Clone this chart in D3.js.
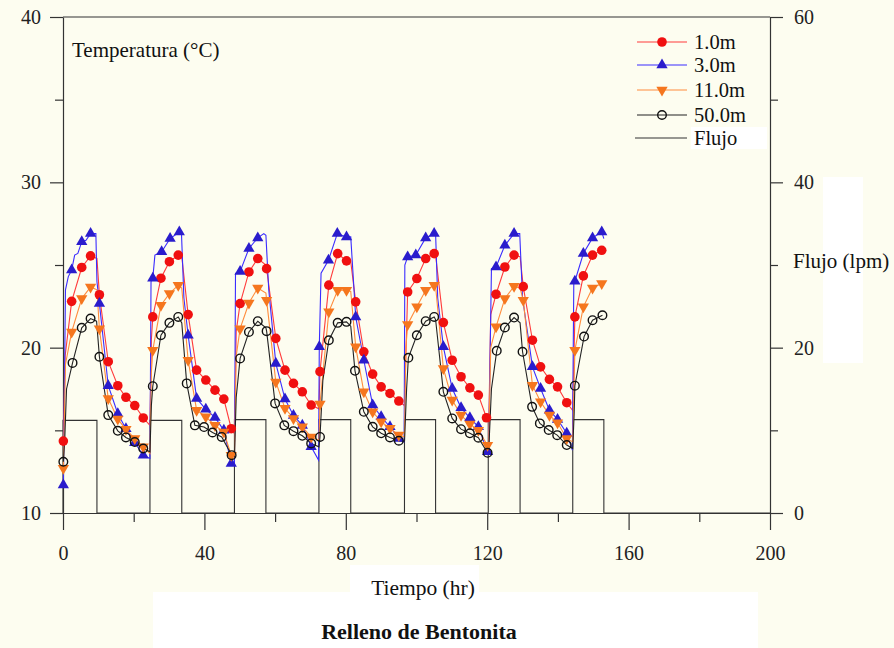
<!DOCTYPE html>
<html><head><meta charset="utf-8">
<script src="https://cdn.jsdelivr.net/npm/d3@7"></script>
<style>
html,body{margin:0;padding:0;background:#fdfdf0;}
svg{display:block;}
text{font-family:"Liberation Serif","DejaVu Serif",serif;fill:#111;}
</style></head>
<body>
<svg id="chart" width="894" height="648"></svg>
<script>
// ---- data: [time (hr), temperature (°C), marker?] ----
const series1m = [
 [0.1,14.35,1],[0.6,19.5,0],[2.45,22.8,1],[5.3,24.85,1],[7.8,25.55,1],[9.6,25.4,0],[10.3,23.2,1],[12.8,19.15,1],[15.5,17.7,1],[17.8,17.0,1],[20.3,16.5,1],[22.7,15.75,1],
 [24.6,15.3,0],[25.0,20.5,0],[25.4,21.86,1],[27.7,24.2,1],[30.1,25.2,1],[32.6,25.6,1],[33.6,25.5,0],[35.4,22.0,1],[37.8,18.64,1],[40.4,18.04,1],[43.0,17.43,1],[45.5,16.89,1],[47.6,15.1,1],
 [48.5,14.8,0],[49.0,21.0,0],[50.1,22.67,1],[52.6,24.58,1],[55.1,25.39,1],[57.4,25.0,0],[57.6,24.78,1],[60.2,20.56,1],[62.8,18.64,1],[65.2,17.84,1],[67.7,17.33,1],[70.2,16.53,1],
 [72.4,16.3,0],[72.7,18.55,1],[75.2,23.78,1],[77.7,25.69,1],[80.2,25.25,1],[81.4,25.2,0],[82.8,22.77,1],[85.1,19.75,1],[87.6,18.4,1],[90.0,17.63,1],[92.5,17.23,1],[95.0,16.77,1],
 [96.6,16.5,0],[97.5,23.37,1],[100.1,24.18,1],[102.6,25.39,1],[105.0,25.69,1],[105.4,25.6,0],[107.6,21.52,1],[110.1,19.24,1],[112.6,18.24,1],[115.1,17.57,1],[117.5,17.13,1],[119.8,15.76,1],
 [120.5,16.0,0],[121.0,22.0,0],[122.5,23.23,1],[125.0,24.88,1],[127.6,25.6,1],[129.3,25.5,0],[130.2,23.69,1],[132.8,20.45,1],[135.1,18.84,1],[137.6,18.08,1],[139.9,17.63,1],[142.5,16.67,1],
 [144.2,16.2,0],[144.8,21.86,1],[147.2,24.34,1],[149.8,25.6,1],[152.4,25.89,1],[153.0,26.0,0]
];
const series3m = [
 [0.1,11.7,1],[0.7,23.5,0],[1.5,24.3,0],[2.45,24.7,1],[3.3,25.6,0],[4.2,25.7,0],[5.3,26.4,1],[6.5,26.5,0],[7.8,26.9,1],[9.3,26.9,0],[9.6,24.0,0],[10.3,22.67,1],[12.8,17.7,1],[15.5,16.0,1],[17.8,15.1,1],[20.3,14.25,1],[22.7,13.5,1],
 [24.6,13.3,0],[24.9,24.0,0],[25.4,24.2,1],[26.0,25.6,0],[27.9,25.8,1],[30.3,26.6,1],[32.9,27.0,1],[33.5,27.0,0],[34.2,23.0,0],[35.4,20.75,1],[37.8,16.93,1],[40.4,16.27,1],[43.0,15.78,1],[45.5,15.0,1],[47.6,13.0,1],
 [48.5,12.9,0],[48.8,24.5,0],[50.1,24.6,1],[52.6,26.0,1],[55.1,26.64,1],[56.8,26.9,0],[57.4,26.8,0],[58.2,23.5,0],[60.2,19.05,1],[62.8,16.89,1],[65.2,15.9,1],[67.7,15.3,1],[70.2,14.0,1],[72.3,13.2,0],
 [72.5,20.05,1],[73.0,24.5,0],[75.1,25.29,1],[77.6,26.9,1],[80.2,26.7,1],[81.4,26.7,0],[82.8,21.86,1],[85.1,19.24,1],[87.6,16.53,1],[90.0,15.82,1],[92.5,15.21,1],[95.0,14.51,1],[96.5,14.3,0],
 [96.7,25.0,0],[97.5,25.49,1],[99.8,25.6,1],[102.6,26.64,1],[105.0,26.9,1],[105.4,26.9,0],[106.0,23.0,0],[107.6,20.05,1],[110.1,17.53,1],[112.6,16.36,1],[115.1,15.76,1],[117.5,15.21,1],[120.1,13.7,1],
 [120.4,13.6,0],[121.2,24.78,0],[122.5,24.88,1],[125.0,26.19,1],[127.6,26.9,1],[129.2,26.9,0],[130.0,23.0,0],[132.8,18.84,1],[135.1,17.53,1],[137.6,16.22,1],[139.9,15.66,1],[142.5,14.82,1],[144.1,13.8,0],
 [144.5,24.0,0],[144.8,24.02,1],[147.2,25.69,1],[149.8,26.64,1],[152.4,27.0,1],[153.0,26.6,0]
];
const series11m = [
 [0.1,12.7,1],[0.7,19.0,0],[2.45,20.95,1],[5.3,22.97,1],[7.8,23.67,1],[9.6,23.5,0],[10.3,21.15,1],[12.8,16.93,1],[15.5,15.68,1],[17.8,15.06,1],[20.3,14.5,1],[22.7,14.0,1],
 [24.6,13.6,0],[25.0,18.5,0],[25.4,19.85,1],[27.7,22.57,1],[30.1,23.27,1],[32.6,23.78,1],[33.6,23.6,0],[35.4,19.24,1],[37.8,16.22,1],[40.4,15.82,1],[43.0,15.3,1],[45.5,14.9,1],[47.6,13.5,1],
 [48.5,13.4,0],[49.0,19.5,0],[50.1,21.15,1],[52.6,22.7,1],[55.1,23.61,1],[57.4,23.3,0],[57.6,22.87,1],[60.2,17.93,1],[62.8,16.33,1],[65.2,15.72,1],[67.7,15.21,1],[70.2,14.6,1],
 [72.4,14.4,0],[72.7,16.6,1],[75.2,22.17,1],[77.7,23.47,1],[80.2,23.47,1],[81.4,23.4,0],[82.8,20.05,1],[85.1,17.33,1],[87.6,16.12,1],[90.0,15.52,1],[92.5,15.12,1],[95.0,14.71,1],
 [96.6,14.6,0],[97.0,20.0,0],[97.5,21.4,1],[100.1,22.47,1],[102.6,23.47,1],[105.0,23.78,1],[105.4,23.7,0],[107.6,18.74,1],[110.1,16.83,1],[112.6,15.92,1],[115.1,15.38,1],[117.5,15.0,1],[120.1,14.1,1],
 [120.4,14.0,0],[121.0,20.0,0],[122.5,21.26,1],[125.0,22.97,1],[127.6,23.72,1],[129.3,23.6,0],[130.2,22.87,1],[132.8,17.73,1],[135.1,16.73,1],[137.6,15.92,1],[139.9,15.46,1],[142.5,14.51,1],
 [144.2,14.3,0],[144.8,19.85,1],[147.2,22.47,1],[149.8,23.61,1],[152.4,23.88,1],[153.0,23.9,0]
];
const series50m = [
 [0.1,13.1,1],[0.5,14.5,0],[1.0,17.5,0],[2.7,19.08,1],[5.3,21.2,1],[7.8,21.76,1],[9.5,21.6,0],[10.3,19.45,1],[12.8,15.92,1],[15.5,14.97,1],[17.8,14.57,1],[20.3,14.29,1],[22.7,13.9,1],
 [24.6,13.7,0],[25.0,16.5,0],[25.4,17.67,1],[27.7,20.75,1],[30.1,21.5,1],[32.6,21.86,1],[33.6,21.5,0],[35.0,17.84,1],[37.3,15.3,1],[39.9,15.2,1],[42.3,14.87,1],[44.9,14.6,1],[47.7,13.5,1],
 [48.5,13.4,0],[49.0,17.0,0],[50.1,19.35,1],[52.6,20.95,1],[55.1,21.6,1],[57.4,21.2,0],[57.6,21.0,1],[60.0,16.63,1],[62.6,15.3,1],[65.2,14.95,1],[67.7,14.67,1],[70.2,14.21,1],
 [72.4,14.0,0],[72.7,14.6,1],[73.5,18.0,0],[75.2,20.45,1],[77.7,21.5,1],[80.2,21.56,1],[81.4,21.3,0],[82.6,18.6,1],[85.1,16.12,1],[87.6,15.21,1],[90.0,14.82,1],[92.5,14.57,1],[95.0,14.37,1],
 [96.6,14.3,0],[97.2,17.5,0],[97.7,19.39,1],[100.1,20.75,1],[102.6,21.6,1],[105.0,21.86,1],[105.4,21.7,0],[107.6,17.33,1],[110.1,15.72,1],[112.6,15.07,1],[115.1,14.82,1],[117.5,14.55,1],[120.1,13.64,1],
 [120.4,13.6,0],[121.2,17.5,0],[122.7,19.81,1],[125.0,21.22,1],[127.6,21.82,1],[129.3,21.5,0],[130.0,19.75,1],[132.7,16.42,1],[134.9,15.42,1],[137.4,15.02,1],[139.8,14.71,1],[142.5,14.11,1],
 [144.2,13.9,0],[144.6,16.0,0],[144.8,17.7,1],[147.4,20.67,1],[149.8,21.66,1],[152.6,21.96,1]
];
// flow (lpm): on/off times per cycle
const flowOn  = [0, 24.6, 48.5, 72.4, 96.6, 120.3, 144.2];
const flowOff = [9.6, 33.6, 57.4, 81.4, 105.4, 129.3, 153.0];
const flowRate = [11.2, 11.2, 11.3, 11.3, 11.3, 11.3, 11.3];

const seriesNames = ["1.0m","3.0m","11.0m","50.0m","Flujo"];
const xTicks = [0,40,80,120,160,200];
const xMinor = [20,60,100,140,180];
const yTicks = [10,20,30,40];
const yMinor = [15,25,35];
const fTicks = [0,20,40,60];
const fMinor = [10,30,50];

// ---- drawing ----
const svg = d3.select("#chart");
const L=63, R=770, T=17, B=513;
const x = d3.scaleLinear().domain([0,200]).range([L,R]);
const yT = d3.scaleLinear().domain([10,40]).range([B,T]);
const yF = d3.scaleLinear().domain([0,60]).range([B,T]);

svg.append("rect").attr("width",894).attr("height",648).attr("fill","#fdfdf0");
// white patches
const white = (x0,y0,w,h)=>svg.append("rect").attr("x",x0).attr("y",y0).attr("width",w).attr("height",h).attr("fill","#ffffff");
white(350,565,129,28);
white(153,592,605,56);
white(823,177,40,186);
white(691,127,76,22);

const axisColor="#333";
function styleAxis(g){
  g.selectAll("path,line").attr("stroke",axisColor).attr("stroke-width",1.2);
  g.selectAll("text").style("font-size","20px").style("fill","#222");
}
// left
svg.append("g").attr("transform",`translate(${L},0)`)
  .call(d3.axisLeft(yT).tickValues(yTicks).tickSize(13).tickSizeOuter(0).tickPadding(9)).call(styleAxis);
svg.append("g").attr("transform",`translate(${L},0)`)
  .call(d3.axisLeft(yT).tickValues(yMinor).tickSize(8).tickSizeOuter(0).tickFormat("")).call(styleAxis)
  .select(".domain").remove();
// right
svg.append("g").attr("transform",`translate(${R},0)`)
  .call(d3.axisRight(yF).tickValues(fTicks).tickSize(13).tickSizeOuter(0).tickPadding(11)).call(styleAxis);
svg.append("g").attr("transform",`translate(${R},0)`)
  .call(d3.axisRight(yF).tickValues(fMinor).tickSize(8).tickSizeOuter(0).tickFormat("")).call(styleAxis)
  .select(".domain").remove();
// bottom
svg.append("g").attr("transform",`translate(0,${B})`)
  .call(d3.axisBottom(x).tickValues(xTicks).tickSize(17).tickSizeOuter(0).tickPadding(16)).call(styleAxis);
svg.append("g").attr("transform",`translate(0,${B})`)
  .call(d3.axisBottom(x).tickValues(xMinor).tickSize(9).tickSizeOuter(0).tickFormat("")).call(styleAxis)
  .select(".domain").remove();
// top border
svg.append("line").attr("x1",L).attr("x2",R).attr("y1",T).attr("y2",T).attr("stroke",axisColor).attr("stroke-width",1.2);

// flow step line
const flowPts = [];
flowOn.forEach((on,i)=>{
  flowPts.push([on,0],[on,flowRate[i]],[flowOff[i],flowRate[i]],[flowOff[i],0]);
});
flowPts.push([200,0]);
svg.append("path").datum(flowPts)
  .attr("d",d3.line().x(d=>x(d[0])).y(d=>yF(d[1])))
  .attr("fill","none").attr("stroke","#333").attr("stroke-width",1.1);

const styles = [
  {data:series1m, line:"#ff3b3b", type:"circle", fill:"#f01010", stroke:"none"},
  {data:series3m, line:"#3a2cff", type:"up", fill:"#2a1ccc", stroke:"none"},
  {data:series11m, line:"#ff8c3c", type:"down", fill:"#f5761e", stroke:"none"},
  {data:series50m, line:"#222", type:"open", fill:"none", stroke:"#111"}
];
const lineGen = d3.line().x(d=>x(d[0])).y(d=>yT(d[1]));
const tri = d3.symbol().type(d3.symbolTriangle).size(55);

function drawMarker(g, type, fill, stroke, cx, cy){
  if(type==="circle"){
    g.append("circle").attr("cx",cx).attr("cy",cy).attr("r",4.8).attr("fill",fill);
  } else if(type==="open"){
    g.append("circle").attr("cx",cx).attr("cy",cy).attr("r",4.3).attr("fill","none").attr("stroke",stroke).attr("stroke-width",1.4);
  } else if(type==="up"){
    g.append("path").attr("d",tri()).attr("transform",`translate(${cx},${cy})`).attr("fill",fill);
  } else {
    g.append("path").attr("d",tri()).attr("transform",`translate(${cx},${cy}) rotate(180)`).attr("fill",fill);
  }
}

styles.forEach(s=>{
  svg.append("path").datum(s.data).attr("d",lineGen)
    .attr("fill","none").attr("stroke",s.line).attr("stroke-width",1.1);
});
styles.forEach(s=>{
  const g = svg.append("g");
  s.data.filter(d=>d[2]).forEach(d=>drawMarker(g,s.type,s.fill,s.stroke,x(d[0]),yT(d[1])));
});

// legend
const legY = [42,65,90,115,138];
const lg = svg.append("g");
styles.forEach((s,i)=>{
  lg.append("line").attr("x1",637).attr("x2",687).attr("y1",legY[i]).attr("y2",legY[i]).attr("stroke",s.line).attr("stroke-width",1.1);
  drawMarker(lg,s.type,s.fill,s.stroke,662,legY[i]);
});
lg.append("line").attr("x1",635).attr("x2",687).attr("y1",legY[4]).attr("y2",legY[4]).attr("stroke","#333").attr("stroke-width",1.1);
seriesNames.forEach((n,i)=>{
  lg.append("text").attr("x",694).attr("y",legY[i]).attr("dy","0.35em").style("font-size","20.5px").text(n);
});

// labels
svg.append("text").attr("x",72).attr("y",57).style("font-size","21px").text("Temperatura (°C)");
svg.append("text").attr("x",793).attr("y",268).style("font-size","21px").text("Flujo (lpm)");
svg.append("text").attr("x",423).attr("y",595).attr("text-anchor","middle").style("font-size","21.5px").text("Tiempo (hr)");
svg.append("text").attr("x",419).attr("y",639).attr("text-anchor","middle").style("font-size","22px").style("font-weight","bold").text("Relleno de Bentonita");
</script>
</body></html>
